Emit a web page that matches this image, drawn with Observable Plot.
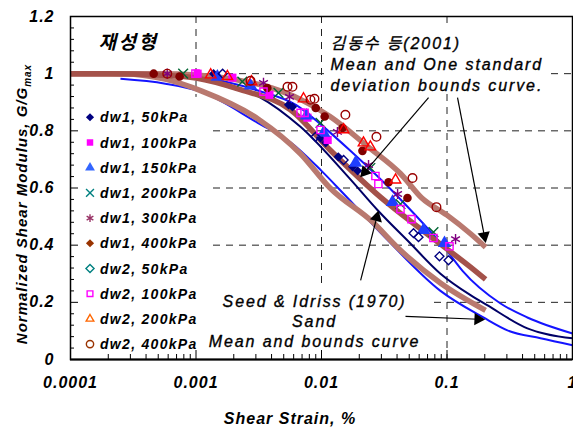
<!DOCTYPE html>
<html><head><meta charset="utf-8">
<script src="https://cdn.jsdelivr.net/npm/d3@7"></script>
<script src="https://cdn.jsdelivr.net/npm/@observablehq/plot@0.6"></script>
<style>
body{margin:0;background:#fff;}
#chart{width:573px;height:430px;}
g[aria-label="x-axis tick label"] text, g[aria-label="y-axis tick label"] text{letter-spacing:1px;}
</style></head><body><div id="chart"></div>
<script>
// ---------- axis ticks / labels ----------
const xTicks = [0.0001, 0.001, 0.01, 0.1, 1];
const xTickLabels = ["0.0001", "0.001", "0.01", "0.1", "1"];
const yTicks = [0, 0.2, 0.4, 0.6, 0.8, 1, 1.2];
const yTickLabels = ["0", "0.2", "0.4", "0.6", "0.8", "1", "1.2"];
const xGrid = [0.001, 0.01, 0.1];
const yGrid = [0.2, 0.4, 0.6, 0.8, 1.0];

// ---------- measured data (strain %, G/Gmax) ----------
const dw1_50_strain  = [0.00138, 0.00546, 0.00587, 0.00982, 0.0108, 0.0136, 0.0177, 0.0194];
const dw1_50_G       = [1.0, 0.891, 0.884, 0.775, 0.758, 0.709, 0.674, 0.66];
const dw1_100_strain = [0.00103, 0.00195, 0.00385, 0.00773, 0.0112];
const dw1_100_G      = [1.0, 0.986, 0.926, 0.846, 0.768];
const dw1_150_strain = [0.00148, 0.00272, 0.0076, 0.0104, 0.0187, 0.0368, 0.065, 0.0955];
const dw1_150_G      = [0.989, 0.958, 0.853, 0.793, 0.688, 0.551, 0.453, 0.407];
const dw1_200_strain = [0.00079, 0.00234, 0.00454, 0.00982, 0.0245, 0.0426, 0.078];
const dw1_200_G      = [1.0, 0.972, 0.933, 0.828, 0.67, 0.544, 0.446];
const dw1_300_strain = [0.00059, 0.00345, 0.00556, 0.0134, 0.0237, 0.0404, 0.117];
const dw1_300_G      = [1.0, 0.968, 0.919, 0.796, 0.68, 0.579, 0.421];
const dw1_400_strain = [0.00046, 0.00074, 0.0037, 0.009, 0.0106, 0.0147, 0.0212, 0.0342, 0.0484];
const dw1_400_G      = [1.0, 0.99, 0.95, 0.88, 0.85, 0.81, 0.73, 0.62, 0.565];
const dw2_50_strain  = [0.00163, 0.00895, 0.015, 0.0541, 0.0593, 0.0871, 0.1028];
const dw2_50_G       = [1.0, 0.779, 0.698, 0.442, 0.428, 0.361, 0.347];
const dw2_100_strain = [0.00099, 0.00345, 0.00681, 0.00733, 0.00982, 0.0269, 0.0284, 0.0426, 0.0521, 0.078, 0.1047];
const dw2_100_G      = [1.0, 0.937, 0.863, 0.863, 0.803, 0.642, 0.614, 0.526, 0.491, 0.425, 0.396];
const dw2_200_strain = [0.00131, 0.00178, 0.00277, 0.00719, 0.015, 0.0216, 0.0245, 0.0389];
const dw2_200_G      = [0.996, 0.99, 0.972, 0.912, 0.804, 0.758, 0.744, 0.628];
const dw2_400_strain = [0.00059, 0.00272, 0.00536, 0.00587, 0.00817, 0.00879, 0.0155, 0.0274, 0.0531, 0.0824];
const dw2_400_G      = [1.0, 0.975, 0.954, 0.954, 0.909, 0.912, 0.856, 0.779, 0.635, 0.533];

// ---------- reference curves ----------
const kimUpper_strain = [0.0001, 0.0005, 0.001, 0.002, 0.004, 0.0068, 0.0117, 0.0234, 0.0427, 0.063, 0.1, 0.154, 0.203];
const kimUpper_G      = [1.0, 1.0, 0.995, 0.98, 0.95, 0.91, 0.85, 0.745, 0.65, 0.565, 0.505, 0.44, 0.393];
const kimMean_strain  = [0.0001, 0.0002, 0.0005, 0.001, 0.00226, 0.00566, 0.0117, 0.0295, 0.0622, 0.154, 0.203];
const kimMean_G       = [1.0, 1.0, 0.995, 0.985, 0.944, 0.874, 0.733, 0.568, 0.455, 0.323, 0.28];
const kimLower_strain = [0.0001, 0.00025, 0.00058, 0.0011, 0.00316, 0.0068, 0.0117, 0.0257, 0.0407, 0.0891, 0.203];
const kimLower_G      = [1.0, 1.0, 0.98, 0.94, 0.84, 0.72, 0.60, 0.48, 0.39, 0.267, 0.172];
const seedUpper_strain = [0.0001, 0.0005, 0.001, 0.00316, 0.0063, 0.01, 0.017, 0.0427, 0.1, 0.133, 0.267, 0.437, 1];
const seedUpper_G      = [1.0, 1.0, 0.99, 0.94, 0.89, 0.82, 0.73, 0.56, 0.38, 0.31, 0.196, 0.147, 0.091];
const seedMean_strain  = [0.0001, 0.0005, 0.001, 0.00316, 0.0068, 0.017, 0.0279, 0.05, 0.0887, 0.154, 0.209, 0.437, 1];
const seedMean_G       = [1.0, 0.995, 0.98, 0.92, 0.814, 0.63, 0.523, 0.41, 0.30, 0.225, 0.19, 0.109, 0.074];
const seedLower_strain = [0.00025, 0.00057, 0.00109, 0.0031, 0.00566, 0.01, 0.015, 0.0316, 0.0887, 0.195, 0.303, 0.556, 1.0];
const seedLower_G      = [0.982, 0.965, 0.937, 0.828, 0.76, 0.66, 0.58, 0.43, 0.24, 0.147, 0.102, 0.074, 0.05];

// ---------- annotations ----------
const arrowFromStrain = [0.0713, 0.1213, 0.0205, 0.0467];
const arrowFromG      = [0.916, 0.916, 0.277, 0.151];
const arrowToStrain   = [0.0205, 0.203, 0.0284, 0.199];
const arrowToG        = [0.639, 0.41, 0.519, 0.14];

// ---------- layout ----------
const W = 573, H = 430, ML = 70, MR = 1, MT = 16, MB = 71;
const FONT = "'Liberation Sans', Arial, 'Noto Sans CJK KR', sans-serif";

const series = [
  {name: "dw1, 50kPa",  s: dw1_50_strain,  g: dw1_50_G,  symbol: "diamond2", fill: "#000080", stroke: "none", r: 4.2, lsym: "diamond2", lfill: "#000080", lstroke: "none"},
  {name: "dw1, 100kPa", s: dw1_100_strain, g: dw1_100_G, symbol: "square", fill: "#ff00ff", stroke: "none", r: 4.6, lsym: "square", lfill: "#ff00ff", lstroke: "none"},
  {name: "dw1, 150kPa", s: dw1_150_strain, g: dw1_150_G, symbol: "triangle", fill: "#1f3fff", stroke: "none", r: 5, lsym: "triangle", lfill: "#3366ff", lstroke: "none"},
  {name: "dw1, 200kPa", s: dw1_200_strain, g: dw1_200_G, symbol: "times", fill: "none", stroke: "#006633", r: 4.5, lsym: "times", lfill: "none", lstroke: "#008080"},
  {name: "dw1, 300kPa", s: dw1_300_strain, g: dw1_300_G, symbol: "asterisk", fill: "none", stroke: "#800080", r: 4.8, lsym: "asterisk", lfill: "none", lstroke: "#993366"},
  {name: "dw1, 400kPa", s: dw1_400_strain, g: dw1_400_G, symbol: "circle", fill: "#800000", stroke: "none", r: 4.3, lsym: "diamond2", lfill: "#993300", lstroke: "none"},
  {name: "dw2, 50kPa",  s: dw2_50_strain,  g: dw2_50_G,  symbol: "diamond2", fill: "none", stroke: "#000080", r: 4, lsym: "diamond2", lfill: "none", lstroke: "#008080"},
  {name: "dw2, 100kPa", s: dw2_100_strain, g: dw2_100_G, symbol: "square2", fill: "none", stroke: "#ff00ff", r: 4.6, lsym: "square2", lfill: "none", lstroke: "#ff00ff"},
  {name: "dw2, 200kPa", s: dw2_200_strain, g: dw2_200_G, symbol: "triangle2", fill: "none", stroke: "#ff0000", r: 5, lsym: "triangle2", lfill: "none", lstroke: "#ff6600"},
  {name: "dw2, 400kPa", s: dw2_400_strain, g: dw2_400_G, symbol: "circle", fill: "none", stroke: "#990000", r: 4.3, lsym: "circle", lfill: "none", lstroke: "#993300"}
];

const curves = [
  {s: seedUpper_strain, g: seedUpper_G, stroke: "#1414ff", w: 2},
  {s: seedLower_strain, g: seedLower_G, stroke: "#1414ff", w: 2},
  {s: seedMean_strain,  g: seedMean_G,  stroke: "#000066", w: 2},
  {s: kimUpper_strain,  g: kimUpper_G,  stroke: "#b9796f", w: 5.5},
  {s: kimLower_strain,  g: kimLower_G,  stroke: "#b9796f", w: 5.5},
  {s: kimMean_strain,   g: kimMean_G,   stroke: "#a4524a", w: 5.5}
];

const sx = Plot.scale({x: {type: "log", domain: [1e-4, 1], range: [ML, W - MR]}});
const sy = Plot.scale({y: {type: "linear", domain: [0, 1.2], range: [H - MB, MT]}});

// white boxes behind legend / annotation texts (data space)
const boxes = [
  {x1: 1e-4,    x2: 0.001236, y1: 0,     y2: 0.917},
  {x1: 0.001047, x2: 0.0713,  y1: 0,     y2: 0.262},
  {x1: 0.01138, x2: 0.61,     y1: 0.934, y2: 1.158}
];

// arrows: shaft + filled head
const shafts = [], heads = [];
arrowFromStrain.forEach((_, i) => {
  const x0 = sx.apply(arrowFromStrain[i]), y0 = sy.apply(arrowFromG[i]);
  const x1 = sx.apply(arrowToStrain[i]),   y1 = sy.apply(arrowToG[i]);
  const dx = x1 - x0, dy = y1 - y0, L = Math.hypot(dx, dy);
  const ux = dx / L, uy = dy / L;
  shafts.push({xa: arrowFromStrain[i], ya: arrowFromG[i], xb: sx.invert(x1 - ux * 6), yb: sy.invert(y1 - uy * 6)});
  heads.push({x: sx.invert(x1 - ux * 6.5), y: sy.invert(y1 - uy * 6.5), rot: Math.atan2(dy, dx) * 180 / Math.PI + 90});
});

// minor tick marks (inward)
const xMinor = [];
[1e-4, 1e-3, 1e-2, 1e-1].forEach(d => { for (let k = 2; k <= 9; k++) xMinor.push(d * k); });
const yMinor = d3.range(0, 31).map(i => i * 0.04).filter(v => Math.abs(v / 0.2 - Math.round(v / 0.2)) > 1e-6);
const xTickLen = sy.invert(H - MB - 5), xMajLen = sy.invert(H - MB - 9);
const yTickLen = sx.invert(ML + 4), yMajLen = sx.invert(ML + 8);

const marks = [
  Plot.ruleX(xGrid, {stroke: "#222", strokeWidth: 1, strokeDasharray: "7,6"}),
  Plot.ruleY(yGrid, {stroke: "#222", strokeWidth: 1, strokeDasharray: "7,6"}),
  Plot.rect(boxes, {x1: "x1", x2: "x2", y1: "y1", y2: "y2", fill: "white"}),
  Plot.ruleX(xMinor, {y1: 0, y2: xTickLen, stroke: "black"}),
  Plot.ruleX(xTicks, {y1: 0, y2: xMajLen, stroke: "black"}),
  Plot.ruleY(yMinor, {x1: 1e-4, x2: yTickLen, stroke: "black"}),
  Plot.ruleY(yTicks, {x1: 1e-4, x2: yMajLen, stroke: "black"})
];
curves.forEach(c => {
  const rows = c.s.map((s, i) => ({s, g: c.g[i]}));
  marks.push(Plot.line(rows, {x: "s", y: "g", stroke: c.stroke, strokeWidth: c.w, curve: "monotone-x", strokeLinecap: "butt"}));
});
series.forEach(se => {
  const rows = se.s.map((s, i) => ({s, g: se.g[i]}));
  marks.push(Plot.dot(rows, {x: "s", y: "g", symbol: se.symbol, r: se.r, fill: se.fill, stroke: se.stroke,
    strokeWidth: se.fill === "none" ? 1.4 : 0}));
});
marks.push(
  Plot.link(shafts, {x1: "xa", y1: "ya", x2: "xb", y2: "yb", stroke: "black", strokeWidth: 1.2}),
  Plot.dot(heads, {x: "x", y: "y", symbol: "triangle", r: 4.6, fill: "black", rotate: "rot"}),
  Plot.text(["재성형"], {x: 0.000167, y: 1.107, text: d => d, textAnchor: "start", lineAnchor: "middle",
    fontSize: 19, fontWeight: "bold", fontStyle: "italic", fontFamily: "'Noto Sans CJK KR', sans-serif"}),
  Plot.text(["김동수 등(2001)\nMean and One standard\ndeviation bounds curve."], {x: 0.0118, y: 1.138, text: d => d,
    textAnchor: "start", lineAnchor: "top", lineHeight: 1.31, fontSize: 16, fontStyle: "italic", fontWeight: "normal",
    fontFamily: FONT, fill: "black", stroke: "black", strokeWidth: 0.35}),
  Plot.text(["Seed & Idriss (1970)\nSand\nMean and bounds curve"], {x: 0.0088, y: 0.135, text: d => d,
    textAnchor: "middle", lineAnchor: "middle", lineHeight: 1.25, fontSize: 16, fontStyle: "italic", fontWeight: "normal",
    fontFamily: FONT, fill: "black", stroke: "black", strokeWidth: 0.35}),
  Plot.axisX(xTicks, {tickFormat: d => xTickLabels[xTicks.indexOf(d)], tickSize: 0, tickPadding: 17, label: null}),
  Plot.axisY(yTicks, {tickFormat: d => yTickLabels[yTicks.indexOf(d)], tickSize: 0, tickPadding: 16, label: null}),
  Plot.frame({stroke: "black", strokeWidth: 1.5}),
  Plot.ruleY([0], {stroke: "black", strokeWidth: 2})
);

const chart = Plot.plot({
  width: W, height: H,
  marginLeft: ML, marginRight: MR, marginTop: MT, marginBottom: MB,
  x: {type: "log", domain: [1e-4, 1]},
  y: {domain: [0, 1.2]},
  style: {fontFamily: FONT, fontSize: "16px", fontWeight: "bold", fontStyle: "italic", background: "white", color: "black", overflow: "visible"},
  marks
});
document.getElementById("chart").appendChild(chart);

const svg = d3.select(chart);
// letter spacing for annotation texts
svg.selectAll("text").each(function () {
  const t = this.textContent;
  if (t.includes("Mean and") || t.includes("Idriss")) d3.select(this).style("letter-spacing", "1.9px");
  if (t === "재성형") d3.select(this).style("letter-spacing", "2.5px");
});

// axis titles and legend (added to the plot's SVG)
const yl = svg.append("text")
  .attr("transform", "translate(27,204) rotate(-90)")
  .attr("text-anchor", "middle")
  .style("font", `italic bold 15px ${FONT}`).style("letter-spacing", "1px")
  .text("Normalized Shear Modulus, G/G");
yl.append("tspan").attr("dy", 4).style("font-size", "10px").text("max");
svg.append("text").attr("x", 290).attr("y", 424).attr("text-anchor", "middle")
  .style("font", `italic bold 16px ${FONT}`).style("letter-spacing", "1px")
  .text("Shear Strain, %");

const lg = svg.append("g");
const symMap = {diamond2: d3.symbolDiamond2, square: d3.symbolSquare, square2: d3.symbolSquare2, triangle: d3.symbolTriangle,
  triangle2: d3.symbolTriangle2, times: d3.symbolTimes, asterisk: d3.symbolAsterisk, circle: d3.symbolCircle};
series.forEach((se, i) => {
  const cy = 117.3 + i * 25.2;
  lg.append("path").attr("transform", `translate(90,${cy})`)
    .attr("d", d3.symbol(symMap[se.lsym], 42)())
    .attr("fill", se.lfill).attr("stroke", se.lstroke).attr("stroke-width", 1.4);
  lg.append("text").attr("x", 100).attr("y", cy + 5).attr("text-anchor", "start")
    .style("font", `italic bold 14px ${FONT}`).style("letter-spacing", "1.3px")
    .text(se.name);
});
</script></body></html>
